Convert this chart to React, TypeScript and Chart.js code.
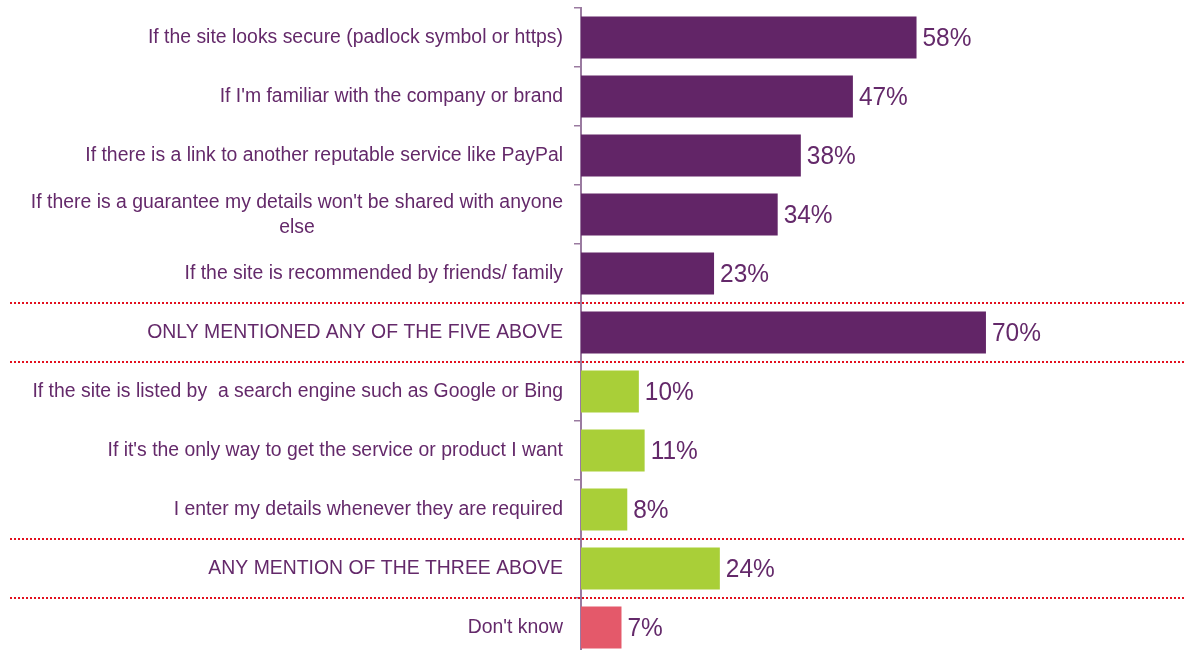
import React, { useEffect, useRef } from "react";
import { Chart, registerables } from "chart.js";

Chart.register(...registerables);

const categories: (string | string[])[] = [
  "If the site looks secure (padlock symbol or https)",
  "If I'm familiar with the company or brand",
  "If there is a link to another reputable service like PayPal",
  ["If there is a guarantee my details won't be shared with anyone", "else"],
  "If the site is recommended by friends/ family",
  "ONLY MENTIONED ANY OF THE FIVE ABOVE",
  "If the site is listed by  a search engine such as Google or Bing",
  "If it's the only way to get the service or product I want",
  "I enter my details whenever they are required",
  "ANY MENTION OF THE THREE ABOVE",
  "Don't know",
];

const values: number[] = [58, 47, 38, 34, 23, 70, 10, 11, 8, 24, 7];

// group of each category: 0 = trust signals, 1 = other reasons, 2 = don't know
const groups: number[] = [0, 0, 0, 0, 0, 0, 1, 1, 1, 1, 2];

// separator lines after these category indices
const separatorsAfter: number[] = [4, 5, 8, 9];

const GROUP_COLORS = ["#622567", "#a9cf38", "#e4596a"];
const TEXT_COLOR = "#64296a";
const AXIS_COLOR = "#9a7aa0";
const SEP_COLOR = "#e3101e";
const FONT = "'Liberation Sans', Arial, sans-serif";

const drawCondensed = (
  ctx: CanvasRenderingContext2D,
  text: string,
  x: number,
  y: number,
  sx: number
) => {
  ctx.save();
  ctx.translate(x, y);
  ctx.scale(sx, 1);
  ctx.fillText(text, 0, 0);
  ctx.restore();
};

const labelsPlugin = {
  id: "customLabels",
  afterDraw(chart: any) {
    const ctx: CanvasRenderingContext2D = chart.ctx;
    const yScale = chart.scales.y;
    const area = chart.chartArea;
    const sx = 0.97;
    const lineH = 25;

    // separators
    ctx.save();
    ctx.strokeStyle = SEP_COLOR;
    ctx.lineWidth = 2;
    ctx.setLineDash([2, 2]);
    separatorsAfter.forEach((i) => {
      const y =
        (yScale.getPixelForValue(i) + yScale.getPixelForValue(i + 1)) / 2;
      ctx.beginPath();
      ctx.moveTo(10, Math.round(y));
      ctx.lineTo(chart.width, Math.round(y));
      ctx.stroke();
    });
    ctx.restore();

    // category labels
    ctx.save();
    ctx.fillStyle = TEXT_COLOR;
    ctx.font = `20px ${FONT}`;
    ctx.textBaseline = "middle";
    ctx.textAlign = "center";
    const right = area.left - 18;
    categories.forEach((c, i) => {
      const lines = Array.isArray(c) ? c : [c];
      const widths = lines.map((l) => ctx.measureText(l).width * sx);
      const maxW = Math.max(...widths);
      const cx = right - maxW / 2;
      const y0 = yScale.getPixelForValue(i) - ((lines.length - 1) * lineH) / 2;
      lines.forEach((l, j) => {
        drawCondensed(ctx, l, cx, y0 + j * lineH, sx);
      });
    });
    ctx.restore();

    // value labels
    ctx.save();
    ctx.fillStyle = TEXT_COLOR;
    ctx.font = `26px ${FONT}`;
    ctx.textBaseline = "middle";
    ctx.textAlign = "left";
    const meta = chart.getDatasetMeta(0);
    meta.data.forEach((bar: any, i: number) => {
      drawCondensed(ctx, `${values[i]}%`, bar.x + 6, bar.y + 1, 0.94);
    });
    ctx.restore();
  },
};

export default function App() {
  const ref = useRef<HTMLCanvasElement | null>(null);

  useEffect(() => {
    if (!ref.current) return;
    const chart = new Chart(ref.current, {
      type: "bar",
      data: {
        labels: categories as any,
        datasets: [
          {
            data: values,
            backgroundColor: groups.map((g) => GROUP_COLORS[g]),
            borderWidth: 0,
            categoryPercentage: 1,
            barPercentage: 0.71,
          },
        ],
      },
      options: {
        indexAxis: "y",
        animation: false,
        responsive: false,
        devicePixelRatio: 1,
        layout: { padding: { top: 8, bottom: 3, left: 0, right: 25.5 } },
        plugins: {
          legend: { display: false },
          tooltip: { enabled: false },
          title: { display: false },
        },
        scales: {
          x: {
            display: false,
            min: 0,
            max: 100,
          },
          y: {
            afterFit: (s: any) => {
              s.width = 581;
            },
            ticks: { display: false },
            grid: {
              display: true,
              drawOnChartArea: false,
              drawTicks: true,
              tickLength: 7,
              color: AXIS_COLOR,
              lineWidth: 1.5,
              offset: true,
            },
            border: { display: true, color: AXIS_COLOR, width: 2 },
          },
        },
      },
      plugins: [labelsPlugin],
    });
    return () => chart.destroy();
  }, []);

  return (
    <div
      style={{
        position: "absolute",
        left: 0,
        top: 0,
        width: 1185,
        height: 650,
        overflow: "hidden",
        background: "#fff",
      }}
    >
      <canvas
        ref={ref}
        width={1185}
        height={660}
        style={{ display: "block", width: 1185, height: 660 }}
      />
    </div>
  );
}
